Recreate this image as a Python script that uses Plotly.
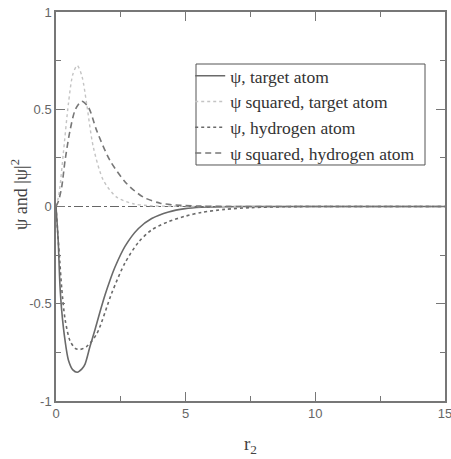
import plotly.graph_objects as go

# ---- data ----
x_psi_t = [0, 0.05, 0.09, 0.15, 0.22, 0.35, 0.48, 0.65, 0.82, 1.0, 1.12, 1.31, 1.5, 1.7, 1.89, 2.08, 2.28, 2.66, 3.18, 3.69, 4.34, 4.98, 5.6, 6.5, 8, 10, 15]
y_psi_t = [0, -0.10, -0.19, -0.40, -0.535, -0.69, -0.79, -0.84, -0.852, -0.835, -0.81, -0.72, -0.635, -0.54, -0.455, -0.38, -0.31, -0.205, -0.113, -0.062, -0.028, -0.011, -0.004, -0.001, 0, 0, 0]

x_psi2_t = [0, 0.08, 0.15, 0.28, 0.48, 0.65, 0.82, 1.0, 1.18, 1.44, 1.83, 2.34, 2.98, 3.6, 4.5, 6, 15]
y_psi2_t = [0, 0.04, 0.10, 0.27, 0.53, 0.68, 0.725, 0.67, 0.53, 0.305, 0.134, 0.048, 0.014, 0.004, 0.001, 0, 0]

x_psi_h = [0, 0.07, 0.15, 0.22, 0.35, 0.54, 0.75, 0.93, 1.18, 1.57, 2.15, 2.66, 3.18, 3.69, 4.34, 4.98, 5.62, 6.5, 7.5, 9, 11, 15]
y_psi_h = [0, -0.14, -0.29, -0.42, -0.58, -0.69, -0.73, -0.735, -0.72, -0.655, -0.445, -0.29, -0.184, -0.12, -0.078, -0.05, -0.03, -0.015, -0.006, -0.001, 0, 0]

x_psi2_h = [0, 0.1, 0.22, 0.35, 0.54, 0.75, 0.99, 1.25, 1.57, 2.08, 2.73, 3.37, 4.02, 4.8, 5.6, 7, 9, 15]
y_psi2_h = [0, 0.03, 0.10, 0.237, 0.39, 0.50, 0.541, 0.51, 0.39, 0.237, 0.117, 0.048, 0.017, 0.006, 0.002, 0, 0, 0]

names = ["ψ, target atom", "ψ squared, target atom", "ψ, hydrogen atom", "ψ squared, hydrogen atom"]

x_ticks = [0, 5, 10, 15]
y_ticks = [-1, -0.5, 0, 0.5, 1]

SERIF = "Liberation Serif, Times New Roman, serif"

fig = go.Figure()

# zero reference line
fig.add_shape(type="line", xref="x", yref="y", x0=0, x1=15, y0=0, y1=0,
              line=dict(color="#666666", width=1.2, dash="dashdot"), layer="below")

series = [
    (x_psi_t, y_psi_t, names[0], dict(color="#6a6a6a", width=1.6, dash="solid")),
    (x_psi2_t, y_psi2_t, names[1], dict(color="#c4c4c4", width=1.4, dash="dot")),
    (x_psi_h, y_psi_h, names[2], dict(color="#6a6a6a", width=1.6, dash="3px,3px")),
    (x_psi2_h, y_psi2_h, names[3], dict(color="#777777", width=1.6, dash="6px,4px")),
]
for xs, ys, nm, ln in series:
    ln = dict(ln)
    ln["shape"] = "spline"
    ln["smoothing"] = 0.8
    fig.add_trace(go.Scatter(x=xs, y=ys, mode="lines", name=nm, line=ln))

axis_common = dict(
    showline=True, linecolor="#777777", linewidth=1.5, mirror="ticks",
    ticks="inside", ticklen=9, tickcolor="#777777", tickwidth=1.2,
    showgrid=False, zeroline=False, automargin=False, ticklabeloverflow="allow",
    tickfont=dict(family="Liberation Sans", size=13, color="#666666"),
)

fig.update_xaxes(range=[0, 15], tickvals=x_ticks, ticktext=[str(v) for v in x_ticks],
                 minor=dict(dtick=2.5, ticklen=5, ticks="inside", tickcolor="#777777", showgrid=False),
                 title=dict(text="r<sub>2</sub>", font=dict(family=SERIF, size=19, color="#444444"), standoff=16),
                 **axis_common)
fig.update_yaxes(range=[-1, 1], tickvals=y_ticks, ticktext=["-1", "-0.5", "0", "0.5", "1"],
                 minor=dict(dtick=0.25, ticklen=5, ticks="inside", tickcolor="#777777", showgrid=False),
                 **axis_common)

# y-axis title placed as rotated text
fig.add_annotation(text="ψ and |ψ|<sup>2</sup>", xref="paper", yref="paper",
                   x=-0.092, y=0.53, xanchor="center", yanchor="middle", textangle=-90,
                   showarrow=False, font=dict(family=SERIF, size=18, color="#444444"))

# legend frame
fig.add_shape(type="rect", xref="paper", yref="paper", x0=0.3599, x1=0.9486, y0=0.6067, y1=0.8663,
              line=dict(color="#555555", width=1), fillcolor="white", layer="below")

fig.update_layout(
    width=451, height=459,
    margin=dict(l=56, r=6, t=12, b=58, autoexpand=False),
    paper_bgcolor="white", plot_bgcolor="white",
    showlegend=True,
    legend=dict(x=0.345, y=0.882, xanchor="left", yanchor="top",
                borderwidth=0, bgcolor="rgba(0,0,0,0)",
                font=dict(family=SERIF, size=17.5, color="#333333"),
                itemwidth=30, tracegroupgap=0),
)

fig.write_html("out.html")
